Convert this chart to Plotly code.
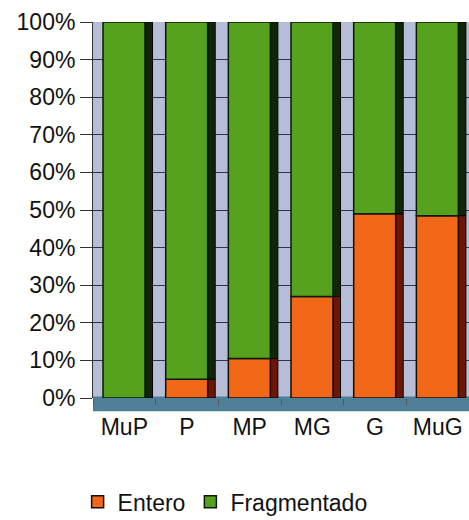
import plotly.graph_objects as go

categories = ["MuP", "P", "MP", "MG", "G", "MuG"]
entero = [0.0, 0.05, 0.105, 0.27, 0.49, 0.485]
fragmentado = [1 - v for v in entero]
tick_vals = [i / 10 for i in range(11)]
tick_text = [f"{i * 10}%" for i in range(11)]

fig = go.Figure()

# side faces (3D look)
fig.add_trace(go.Bar(x=categories, y=entero, base=[0] * 6, width=0.12, offset=0.33,
                     marker=dict(color="#6e1606", line=dict(color="#000000", width=1)),
                     showlegend=False, hoverinfo="skip"))
fig.add_trace(go.Bar(x=categories, y=fragmentado, base=entero, width=0.12, offset=0.33,
                     marker=dict(color="#0f2608", line=dict(color="#000000", width=1)),
                     showlegend=False, hoverinfo="skip"))

# front faces
fig.add_trace(go.Bar(x=categories, y=entero, base=[0] * 6, width=0.67, offset=-0.34,
                     name="Entero",
                     marker=dict(color="#f06818", line=dict(color="#1a0a00", width=1.5))))
fig.add_trace(go.Bar(x=categories, y=fragmentado, base=entero, width=0.67, offset=-0.34,
                     name="Fragmentado",
                     marker=dict(color="#56a21e", line=dict(color="#0a1a00", width=1.5))))

fig.update_layout(
    width=469, height=520,
    margin=dict(l=93, r=0, t=22, b=122),
    barmode="overlay",
    paper_bgcolor="#ffffff",
    plot_bgcolor="#b6bdd7",
    font=dict(family="Liberation Sans, Arial, sans-serif", size=23, color="#111111"),
    shapes=[
        dict(type="rect", xref="paper", yref="paper", x0=0, x1=1, y0=-0.035, y1=0.004,
             fillcolor="#4f7f98", line=dict(width=0), layer="below"),
    ],
    legend=dict(orientation="h", xref="container", yref="container", x=0.48, y=0.035,
                xanchor="center", yanchor="middle", font=dict(size=23),
                itemwidth=30, traceorder="normal", tracegroupgap=0),
    showlegend=True,
)
fig.update_xaxes(range=[-0.5, 5.5], showgrid=False, ticks="outside", tickson="boundaries",
                 ticklen=6, tickcolor="#555555", ticklabelstandoff=13, showline=False,
                 tickfont=dict(size=23))
fig.update_yaxes(range=[0, 1], tickvals=tick_vals, ticktext=tick_text, showgrid=True,
                 gridcolor="#2a3650", gridwidth=1.2, zeroline=False, ticks="outside",
                 ticklen=12, tickcolor="#333333", showline=True, linecolor="#333333",
                 linewidth=1, tickfont=dict(size=23))

fig.write_html("out.html")
